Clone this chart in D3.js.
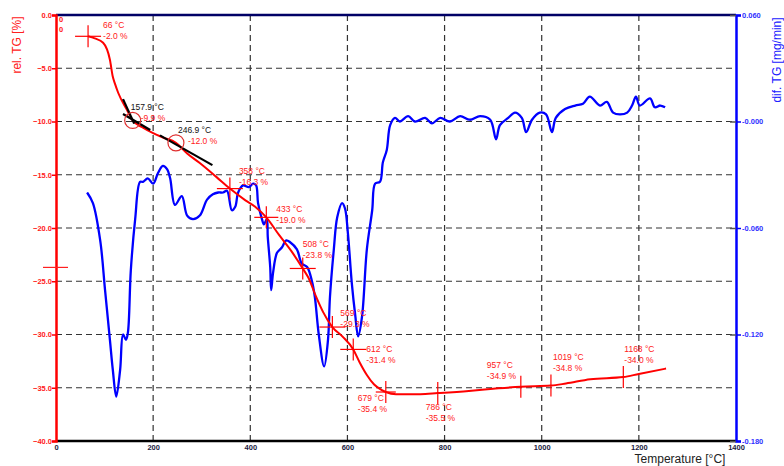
<!DOCTYPE html>
<html>
<head>
<meta charset="utf-8">
<script src="https://cdn.jsdelivr.net/npm/d3@7"></script>
<style>
  body { margin: 0; background: #fff; }
  text { font-family: "Liberation Sans", Arial, sans-serif; }
</style>
</head>
<body>
<svg></svg>
<script>
var width = 784;
var height = 466;

// relative TG curve [°C, %]
var tgTemp = [66, 80, 97, 111, 117, 121, 128, 146, 157.9, 180, 200, 220, 246.9, 270, 296, 330, 358, 390, 410, 433, 460, 485, 508, 520, 535, 550, 569, 590, 612, 625, 640, 655, 670, 679, 700, 750, 786, 850, 900, 957, 1019, 1050, 1100, 1168, 1200, 1256];
var tgValue = [-2.0, -2.2, -2.6, -4.2, -5.8, -6.4, -7.3, -8.9, -9.9, -10.6, -11.1, -11.5, -12.0, -13.0, -13.9, -15.2, -16.3, -17.4, -18.0, -19.0, -20.7, -22.2, -23.8, -24.7, -26.4, -27.9, -29.3, -30.2, -31.4, -32.6, -33.8, -34.7, -35.2, -35.4, -35.6, -35.6, -35.5, -35.3, -35.1, -34.9, -34.8, -34.6, -34.2, -34.0, -33.7, -33.2];

// derivative (dif. TG) curve [°C, mg/min]
var dtgTemp = [64, 76, 91, 101, 111, 117, 124, 132, 138, 144, 148, 154, 163, 173, 179, 189, 200, 210, 220, 229, 235, 245, 259, 270, 282, 296, 311, 323, 334, 344, 352, 362, 369, 375, 385, 397, 406, 412, 416, 424, 428, 434, 436, 441, 443, 447, 455, 465, 474, 482, 496, 506, 517, 527, 533, 541, 552, 560, 564, 572, 579, 589, 595, 601, 609, 616, 622, 630, 640, 651, 657, 667, 673, 681, 688, 698, 708, 725, 739, 760, 774, 791, 811, 832, 852, 873, 894, 906, 914, 931, 945, 959, 968, 980, 996, 1009, 1021, 1029, 1048, 1069, 1085, 1099, 1120, 1134, 1147, 1161, 1176, 1186, 1194, 1202, 1223, 1233, 1244, 1254];
var dtgValue = [-0.040, -0.046, -0.067, -0.095, -0.123, -0.140, -0.155, -0.140, -0.120, -0.123, -0.119, -0.084, -0.055, -0.034, -0.034, -0.032, -0.035, -0.029, -0.025, -0.027, -0.032, -0.047, -0.042, -0.053, -0.055, -0.053, -0.044, -0.041, -0.040, -0.040, -0.039, -0.050, -0.048, -0.040, -0.036, -0.037, -0.035, -0.036, -0.046, -0.055, -0.058, -0.055, -0.065, -0.082, -0.095, -0.085, -0.074, -0.071, -0.067, -0.068, -0.072, -0.080, -0.082, -0.090, -0.099, -0.120, -0.138, -0.123, -0.099, -0.072, -0.054, -0.046, -0.049, -0.063, -0.091, -0.109, -0.121, -0.110, -0.072, -0.050, -0.035, -0.034, -0.023, -0.016, -0.002, 0.002, 0.000, 0.003, 0.000, 0.002, -0.001, 0.002, 0.000, 0.003, 0.001, 0.003, 0.001, -0.010, -0.002, 0.002, 0.005, 0.002, -0.006, 0.001, 0.005, 0.004, -0.006, 0.002, 0.007, 0.009, 0.010, 0.014, 0.009, 0.011, 0.005, 0.004, 0.005, 0.009, 0.014, 0.009, 0.013, 0.008, 0.009, 0.008];

// step points marked with a cross
var stepTemp = [66, 358, 433, 508, 569, 612, 679, 786, 957, 1019, 1168];
var stepValue = [-2.0, -16.3, -19.0, -23.8, -29.3, -31.4, -35.4, -35.5, -34.9, -34.8, -34.0];
var stepLabel = ["66 °C", "358 °C", "433 °C", "508 °C", "569 °C", "612 °C", "679 °C", "786 °C", "957 °C", "1019 °C", "1168 °C"];
var stepPct = ["-2.0 %", "-16.3 %", "-19.0 %", "-23.8 %", "-29.3 %", "-31.4 %", "-35.4 %", "-35.5 %", "-34.9 %", "-34.8 %", "-34.0 %"];

// onset points (tangent construction)
var onsetTemp = [157.9, 246.9];
var onsetValue = [-9.9, -12.0];
var onsetLabel = ["157.9 °C", "246.9 °C"];
var onsetPct = ["-9.9 %", "-12.0 %"];
var tangents = [
    [[138, -7.9], [161, -10.2]],
    [[138, -9.3], [194, -10.8]],
    [[214, -11.3], [322, -14.1]]
];

var xTicks = [0, 200, 400, 600, 800, 1000, 1200, 1400];
var tgTicks = [0, -5, -10, -15, -20, -25, -30, -35, -40];
var dtgTicks = [0.06, 0.0, -0.06, -0.12, -0.18];
var dtgTickLabels = ["0.060", "-0.000", "-0.060", "-0.120", "-0.180"];

//..................................................................................//

var mLeft = 56, mRight = 736, mTop = 15, mBottom = 441;

var svg = d3.select('svg')
    .attr('width', width)
    .attr('height', height);

var x = d3.scaleLinear().domain([0, 1400]).range([mLeft, mRight]);
var y = d3.scaleLinear().domain([-40, 0]).range([mBottom, mTop]);
var y2 = d3.scaleLinear().domain([-0.18, 0.06]).range([mBottom, mTop]);

// grid
svg.append('g')
    .selectAll('line')
    .data(tgTicks.slice(1, -1))
    .enter().append('line')
    .attr('x1', mLeft).attr('x2', mRight)
    .attr('y1', function (d) { return y(d); })
    .attr('y2', function (d) { return y(d); })
    .attr('stroke', '#333').attr('stroke-width', 1.2)
    .attr('stroke-dasharray', '6,4');

svg.append('g')
    .selectAll('line')
    .data(xTicks.slice(1, -1))
    .enter().append('line')
    .attr('y1', mTop).attr('y2', mBottom)
    .attr('x1', function (d) { return x(d); })
    .attr('x2', function (d) { return x(d); })
    .attr('stroke', '#333').attr('stroke-width', 1.2)
    .attr('stroke-dasharray', '6,4');

// frame
svg.append('line').attr('x1', mLeft).attr('x2', mRight).attr('y1', mTop).attr('y2', mTop)
    .attr('stroke', '#000066').attr('stroke-width', 2.5);
svg.append('line').attr('x1', mLeft).attr('x2', mRight).attr('y1', mBottom).attr('y2', mBottom)
    .attr('stroke', '#000').attr('stroke-width', 2.5);

// left axis
var yAxis = svg.append('g')
    .attr('transform', 'translate(' + mLeft + ',0)')
    .call(d3.axisLeft(y).tickValues(tgTicks).tickSize(4).tickFormat(d3.format('.1f')));
yAxis.select('.domain').attr('stroke', '#ff0000').attr('stroke-width', 2.5);
yAxis.selectAll('.tick line').attr('stroke', '#ff0000').attr('stroke-width', 1.5);
yAxis.selectAll('.tick text').attr('fill', '#ff2020').attr('font-size', 7.5)
    .attr('font-weight', 'bold').attr('x', -4);

// right axis
var y2Axis = svg.append('g')
    .attr('transform', 'translate(' + mRight + ',0)')
    .call(d3.axisRight(y2).tickValues(dtgTicks).tickSize(5)
        .tickFormat(function (d, i) { return dtgTickLabels[i]; }));
y2Axis.select('.domain').attr('stroke', '#0000ff').attr('stroke-width', 2.5);
y2Axis.selectAll('.tick line').attr('stroke', '#0000ff').attr('stroke-width', 1.5);
y2Axis.selectAll('.tick text').attr('fill', '#3030ff').attr('font-size', 7.5)
    .attr('font-weight', 'bold').attr('x', 6);
y2Axis.selectAll('.tick').append('line')
    .attr('x1', -6).attr('x2', 0).attr('stroke', '#555').attr('stroke-width', 1.5);

// bottom axis
var xAxis = svg.append('g')
    .attr('transform', 'translate(0,' + mBottom + ')')
    .call(d3.axisBottom(x).tickValues(xTicks).tickSize(0).tickFormat(d3.format('d')));
xAxis.select('.domain').remove();
xAxis.selectAll('.tick text').attr('fill', '#1a1a40').attr('font-size', 7.5)
    .attr('font-weight', 'bold').attr('y', 4);

// titles
svg.append('text')
    .attr('transform', 'translate(21,45) rotate(-90)')
    .attr('text-anchor', 'middle')
    .attr('fill', '#ff2020').attr('font-size', 12)
    .text('rel. TG  [%]');
svg.append('text')
    .attr('transform', 'translate(781,60) rotate(-90)')
    .attr('text-anchor', 'middle')
    .attr('fill', '#2020ff').attr('font-size', 12)
    .text('dif. TG  [mg/min]');
svg.append('text')
    .attr('x', 680).attr('y', 463)
    .attr('text-anchor', 'middle')
    .attr('fill', '#222').attr('font-size', 12)
    .text('Temperature  [°C]');

svg.append('text').attr('x', 59).attr('y', 22).attr('fill', '#ff2020')
    .attr('font-size', 7.5).attr('font-weight', 'bold').text('0');
svg.append('text').attr('x', 59).attr('y', 32).attr('fill', '#ff2020')
    .attr('font-size', 7.5).attr('font-weight', 'bold').text('0');

// marker on left axis
svg.append('line')
    .attr('x1', mLeft - 13).attr('x2', mLeft + 12)
    .attr('y1', y(-23.7)).attr('y2', y(-23.7))
    .attr('stroke', '#ff2020').attr('stroke-width', 1.2);

//..................................................................................//

// dif. TG curve
var dtgLine = d3.line()
    .x(function (d, i) { return x(dtgTemp[i]); })
    .y(function (d) { return y2(d); })
    .curve(d3.curveCatmullRom);

svg.append('path')
    .attr('d', dtgLine(dtgValue))
    .attr('fill', 'none')
    .attr('stroke', '#0000ff')
    .attr('stroke-width', 2.3);

// rel. TG curve
var tgLine = d3.line()
    .x(function (d, i) { return x(tgTemp[i]); })
    .y(function (d) { return y(d); })
    .curve(d3.curveMonotoneX);

svg.append('path')
    .attr('d', tgLine(tgValue))
    .attr('fill', 'none')
    .attr('stroke', '#ff0000')
    .attr('stroke-width', 2);

// tangents
svg.append('g').selectAll('line')
    .data(tangents)
    .enter().append('line')
    .attr('x1', function (d) { return x(d[0][0]); })
    .attr('y1', function (d) { return y(d[0][1]); })
    .attr('x2', function (d) { return x(d[1][0]); })
    .attr('y2', function (d) { return y(d[1][1]); })
    .attr('stroke', '#000').attr('stroke-width', 2.2);

// onset circles and labels
var onset = svg.append('g').selectAll('g')
    .data(onsetTemp)
    .enter().append('g')
    .attr('transform', function (d, i) { return 'translate(' + x(d) + ',' + y(onsetValue[i]) + ')'; });
onset.append('circle').attr('r', 8)
    .attr('fill', 'none').attr('stroke', '#e03030').attr('stroke-width', 1.2);
var onsetDx = [-2, 2];
onset.append('text')
    .attr('x', function (d, i) { return onsetDx[i]; }).attr('y', -10)
    .attr('font-size', 8.5).attr('fill', '#111')
    .text(function (d, i) { return onsetLabel[i]; });
onset.append('text')
    .attr('x', function (d, i) { return onsetDx[i] + 10; }).attr('y', 1)
    .attr('font-size', 8.5).attr('fill', '#ff2020')
    .text(function (d, i) { return onsetPct[i]; });

// step crosses and labels
var labelDx = [15, 9, 10, 0, 8, 13, -28, -12, -34, 2, 1];
var labelDy = [-8, -15, -5, -21, -11, 3, 9, 17, -19, -26, -25];
var crossH = [13, 13, 12, 13, 13, 13, 10, 0, 0, 0, 0];

var step = svg.append('g').selectAll('g')
    .data(stepTemp)
    .enter().append('g')
    .attr('transform', function (d, i) { return 'translate(' + x(d) + ',' + y(stepValue[i]) + ')'; });
step.append('line')
    .attr('x1', function (d, i) { return -crossH[i]; })
    .attr('x2', function (d, i) { return crossH[i]; })
    .attr('stroke', '#ff0000').attr('stroke-width', 1.2);
step.append('line')
    .attr('y1', -11).attr('y2', 11)
    .attr('stroke', '#ff0000').attr('stroke-width', 1.2);
step.append('text')
    .attr('x', function (d, i) { return labelDx[i]; })
    .attr('y', function (d, i) { return labelDy[i]; })
    .attr('font-size', 8.5).attr('fill', '#ff2020')
    .text(function (d, i) { return stepLabel[i]; });
step.append('text')
    .attr('x', function (d, i) { return labelDx[i]; })
    .attr('y', function (d, i) { return labelDy[i] + 11; })
    .attr('font-size', 8.5).attr('fill', '#ff2020')
    .text(function (d, i) { return stepPct[i]; });
</script>
</body>
</html>
